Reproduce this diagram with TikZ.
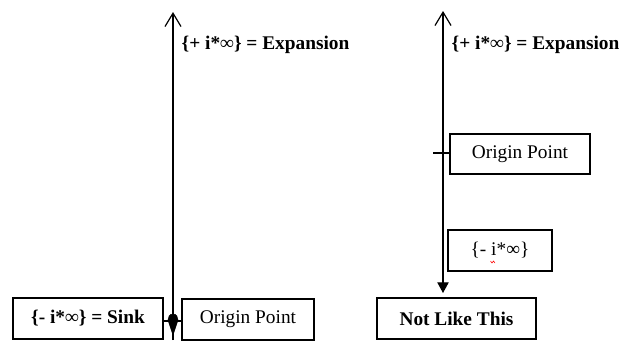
\documentclass[tikz,border=0pt]{standalone}
\usepackage{fontspec}
\setmainfont{Liberation Serif}
\usetikzlibrary{arrows.meta}
\tikzset{
	box/.style={draw, line width=0.9pt, inner sep=0pt, minimum height=30.75pt},
	axis/.style={line width=0.9pt},
	lbl/.style={font=\fontsize{14.5}{17}\selectfont}
}

\begin{document}
\begin{tikzpicture}[x=0.75pt, y=-0.75pt]
			%%%%% START %%%%%
			\useasboundingbox (0, 0) rectangle (625, 340);
			
			% left: the way it is
			\coordinate (top1) at (173, 12);
			\coordinate (bot1) at (173, 340);
			\draw[axis, -{Straight Barb[length=10pt, width=12pt]}] (bot1) -- (top1);
			\node[lbl, anchor=west] (exp1) at (177, 45) {\textbf{\{+ i*∞\} = Expansion}};
			
			\node[box, lbl, minimum width=112.5pt] (sink) at (88, 318.5) {\textbf{\{- i*∞\} = Sink}};
			\node[box, lbl, minimum width=99pt] (orig1) at (248, 319.5) {Origin Point};
			\draw[axis] (sink.east |- 0, 321) -- (orig1.west |- 0, 321);
			\draw[fill=black] (173, 314) .. controls (176.5, 314) and (178, 317) .. (178, 320)
				-- (173, 335) -- (168, 320) .. controls (168, 317) and (169.5, 314) .. (173, 314);
			
			% right: not like this
			\coordinate (top2) at (443, 11);
			\coordinate (bot2) at (443, 293);
			\draw[axis, {Straight Barb[length=10pt, width=12pt]}-{Triangle[length=8pt, width=8.5pt]}] (top2) -- (bot2);
			\node[lbl, anchor=west] (exp2) at (447, 45) {\textbf{\{+ i*∞\} = Expansion}};
			
			\node[box, lbl, minimum width=105pt, minimum height=30pt] (orig2) at (520, 154) {Origin Point};
			\coordinate (tick2) at (433, 153);
			\draw[axis] (tick2) -- (orig2.west |- tick2);
			
			\node[box, lbl, minimum width=78pt] (minus) at (500, 250.5) {\{- i*∞\}};
			\draw[red, line width=0.4pt] (490.5, 261) -- (492, 263) -- (493.5, 261) -- (495, 263);
			
			\node[box, lbl, minimum width=119.25pt] (notlike) at (456.5, 318.5) {\textbf{Not Like This}};
			%%%%% END %%%%%
\end{tikzpicture}
\end{document}
